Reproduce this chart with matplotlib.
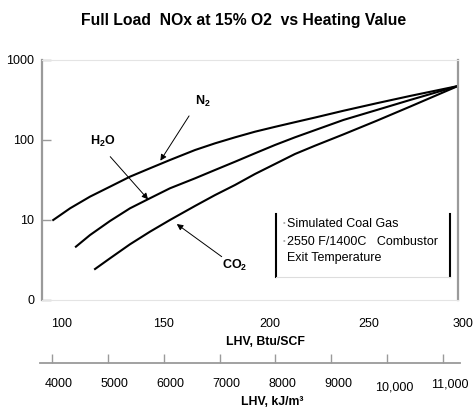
import matplotlib
matplotlib.use('Agg')
import matplotlib.pyplot as plt
import matplotlib.transforms as mtransforms

# full load NOx (ppm @ 15% O2) vs LHV (Btu/SCF)
btuN2 = [105.4, 113.5, 123.1, 132.7, 142.3, 151.9, 161.5, 173.6, 183.2, 192.8, 202.4, 212.0, 221.6, 231.3, 244.9, 260.9, 276.9, 300.0]
noxN2 = [10.0, 14.0, 19.6, 26.1, 34.8, 44.3, 56.2, 75.0, 90.9, 108.0, 127.0, 146.0, 167.0, 191.0, 232.0, 288.0, 355.0, 473.0]

btuH2O = [116.3, 123.1, 132.7, 142.3, 151.9, 161.5, 173.6, 183.2, 192.8, 202.4, 212.0, 221.6, 231.3, 244.9, 260.9, 276.9, 300.0]
noxH2O = [4.64, 6.49, 9.72, 14.0, 18.7, 24.9, 33.2, 42.2, 53.5, 68.2, 86.6, 108.0, 133.0, 178.0, 237.0, 316.0, 473.0]

btuCO2 = [125.5, 132.7, 142.3, 151.9, 161.5, 173.6, 183.2, 192.8, 202.4, 212.0, 221.6, 231.3, 244.9, 260.9, 276.9, 300.0]
noxCO2 = [2.44, 3.32, 4.97, 7.14, 10.0, 15.0, 20.5, 27.4, 37.6, 50.1, 66.8, 85.0, 117.5, 174.0, 261.0, 473.0]

btuTicks = [100, 150, 200, 250, 300]
btuTickLabels = ['100', '150', '200', '250', '300']
noxTicks = [1, 10, 100, 1000]
noxTickLabels = ['0', '10', '100', '1000']
kjTicks = [4000, 5000, 6000, 7000, 8000, 9000, 10000, 11000]
kjTickLabels = ['4000', '5000', '6000', '7000', '8000', '9000', '10,000', '11,000']

plt.rcParams['font.family'] = ['Liberation Sans', 'DejaVu Sans']
plt.rcParams['mathtext.fontset'] = 'custom'
plt.rcParams['mathtext.rm'] = 'Liberation Sans'
plt.rcParams['mathtext.bf'] = 'Liberation Sans:bold'

grey = '#9a9a9a'
W, H = 473.0, 408.0


def createNoxPlot(outFileName):
	fig = plt.figure(figsize=(W / 100, H / 100), dpi=100)

	#main plot area, pixel box 42..458 x 60..300
	ax = fig.add_axes([42 / W, (H - 300) / H, 416 / W, 240 / H])
	ax.set_yscale('log')
	ax.set_xlim(100, 300)
	ax.set_ylim(1, 1000)

	for btu, nox in [(btuN2, noxN2), (btuH2O, noxH2O), (btuCO2, noxCO2)]:
		ax.plot(btu, nox, color='black', lw=1.5, solid_joinstyle='round')

	#spines: grey sides, very light top and bottom
	for side in ['left', 'right']:
		ax.spines[side].set_color(grey)
		ax.spines[side].set_linewidth(1.6)
	for side in ['top', 'bottom']:
		ax.spines[side].set_color('#e4e4e4')
		ax.spines[side].set_linewidth(0.8)

	ax.set_yticks(noxTicks)
	ax.set_yticklabels(noxTickLabels)
	ax.yaxis.set_minor_locator(matplotlib.ticker.NullLocator())
	ax.tick_params(axis='y', direction='in', length=6.5, width=1, color=grey, pad=5.5, labelsize=9)

	#tick marks at 150/200/250, labels sit a bit to the right like the original
	ax.set_xticks(btuTicks)
	ax.set_xticklabels(btuTickLabels)
	ax.set_xticks([150, 200, 250], minor=True)
	ax.tick_params(axis='x', which='major', length=0, pad=13, labelsize=9)
	ax.tick_params(axis='x', which='minor', direction='in', length=7, width=1, color=grey)
	shifts = [20, 17, 20, 15, 5]
	for lab, dx in zip(ax.get_xticklabels(), shifts):
		lab.set_transform(lab.get_transform() + mtransforms.ScaledTranslation(dx / 100.0, 0, fig.dpi_scale_trans))

	#curve labels with arrows
	arrow = dict(arrowstyle='-|>', color='black', lw=0.7, mutation_scale=9, shrinkA=0, shrinkB=0)
	ax.annotate('', xy=(156.9, 55.1), xytext=(170.7, 200.0), arrowprops=arrow)
	ax.text(177.5, 301, r'$\mathbf{N_2}$', ha='center', va='center', fontsize=9)
	ax.annotate('', xy=(151.0, 18.1), xytext=(132.8, 61.9), arrowprops=arrow)
	ax.text(129.1, 95.3, r'$\mathbf{H_2O}$', ha='center', va='center', fontsize=9)
	ax.annotate('', xy=(164.8, 8.9), xytext=(186.4, 3.48), arrowprops=arrow)
	ax.text(192.5, 2.74, r'$\mathbf{CO_2}$', ha='center', va='center', fontsize=9)

	#note box: black sides, light bottom edge
	boxL, boxR, boxB, boxT = 0.562, 0.981, 0.094, 0.358
	ax.plot([boxL, boxL], [boxB, boxT], color='black', lw=1.5, transform=ax.transAxes)
	ax.plot([boxR, boxR], [boxB, boxT], color='black', lw=1.5, transform=ax.transAxes)
	ax.plot([boxL, boxR], [boxB, boxB], color='#dddddd', lw=0.8, transform=ax.transAxes)
	ax.text(0.578, 0.317, u'\u2022', color='#aaaaaa', fontsize=5.5, ha='left', va='center', transform=ax.transAxes)
	ax.text(0.588, 0.317, 'Simulated Coal Gas', fontsize=9, ha='left', va='center', transform=ax.transAxes)
	ax.text(0.578, 0.242, u'\u2022', color='#aaaaaa', fontsize=5.5, ha='left', va='center', transform=ax.transAxes)
	ax.text(0.588, 0.242, '2550 F/1400C   Combustor', fontsize=9, ha='left', va='center', transform=ax.transAxes)
	ax.text(0.588, 0.176, 'Exit Temperature', fontsize=9, ha='left', va='center', transform=ax.transAxes)

	#second scale in kJ/m3 drawn as a flat axes under the main one
	ax2 = fig.add_axes([40 / W, (H - 363) / H, 420 / W, 0.0001])
	ax2.set_xlim(3785, 11304)
	for side in ['left', 'right', 'top']:
		ax2.spines[side].set_visible(False)
	ax2.spines['bottom'].set_color(grey)
	ax2.spines['bottom'].set_linewidth(1.3)
	ax2.set_yticks([])
	ax2.set_xticks(kjTicks)
	ax2.set_xticklabels(kjTickLabels)
	ax2.tick_params(axis='x', direction='in', length=6.5, width=1, color=grey, pad=11, labelsize=9)
	for lab in ax2.get_xticklabels():
		dy = -3 if lab.get_text() == '10,000' else 0
		lab.set_transform(lab.get_transform() + mtransforms.ScaledTranslation(7 / 100.0, dy / 100.0, fig.dpi_scale_trans))

	#titles
	fig.text(244 / W, 1 - 21 / H, 'Full Load  NOx at 15% O2  vs Heating Value', ha='center', va='center',
		fontsize=11.3, fontweight='bold')
	fig.text(265 / W, 1 - 342 / H, 'LHV, Btu/SCF', ha='center', va='center', fontsize=8.8, fontweight='bold')
	fig.text(272 / W, 1 - 402 / H, u'LHV, kJ/m\u00b3', ha='center', va='center', fontsize=8.8, fontweight='bold')

	fig.savefig(outFileName, dpi=100)


if __name__ == "__main__":
	createNoxPlot('out.png')
